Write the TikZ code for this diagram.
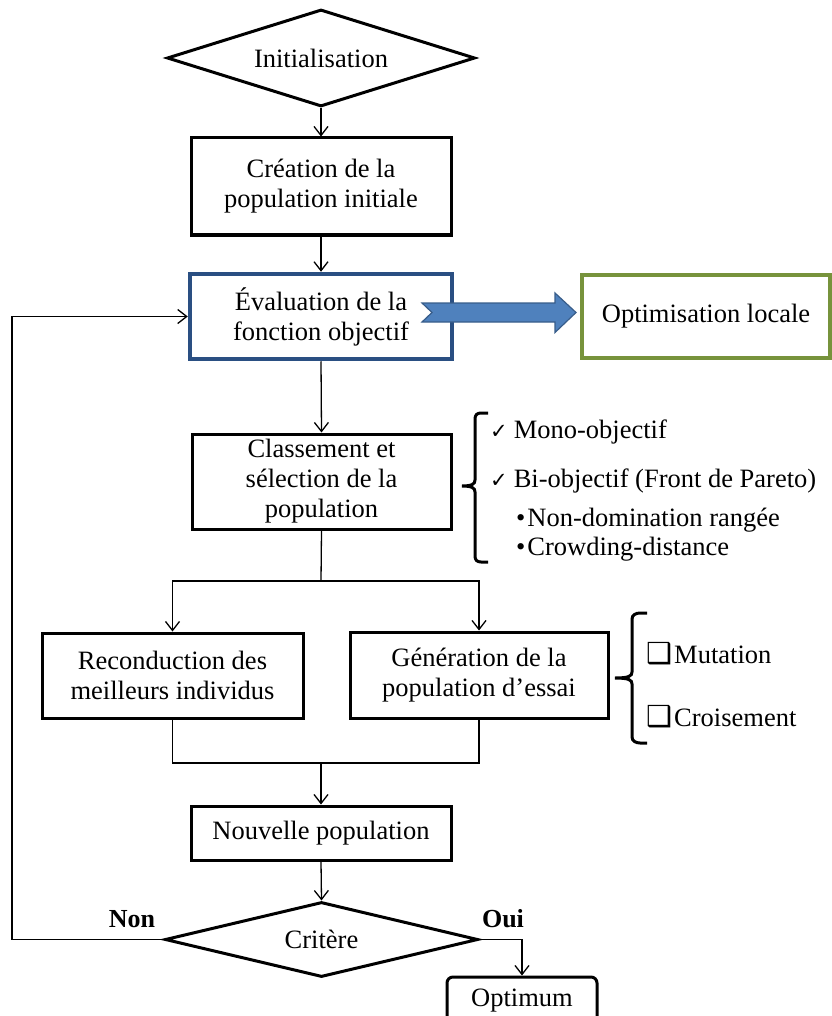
\documentclass[tikz,border=0pt]{standalone}
\usepackage{fontspec}
\setmainfont{Liberation Serif}
\newfontfamily\symfont{DejaVu Sans}
\usetikzlibrary{shapes.geometric,arrows.meta}
\definecolor{evalblue}{RGB}{42,79,130}
\definecolor{arrowfill}{RGB}{79,129,189}
\definecolor{arrowline}{RGB}{56,93,138}
\definecolor{locgreen}{RGB}{119,147,60}
\begin{document}
\begin{tikzpicture}[x=1pt,y=-1pt,
  font=\fontsize{26.5}{30}\selectfont,
  box/.style={draw, line width=3pt, align=center, inner sep=0pt},
  dia/.style={draw, diamond, line width=3pt, inner sep=0pt, shape aspect=3.2},
  conn/.style={line width=1.3pt, -{Straight Barb[length=9pt,width=14pt]}},
  plain/.style={line width=1.3pt},
  brace/.style={line width=3pt},
  item/.style={anchor=west, inner sep=0pt},
]
\useasboundingbox (0,0) rectangle (831,1016);

% nodes
\node[dia, minimum width=308pt, minimum height=97pt] (init) at (321,58) {Initialisation};
\node[box, minimum width=260pt, minimum height=97pt] (create) at (321,186.5) {Création de la\\population initiale};
\node[box, draw=evalblue, line width=4.5pt, minimum width=262pt, minimum height=85pt] (eval) at (321,316.5) {Évaluation de la\\fonction objectif};
\node[box, draw=locgreen, line width=4pt, minimum width=248pt, minimum height=83pt] (optim) at (706,316.5) {Optimisation locale};
\node[box, minimum width=259pt, minimum height=95pt] (classe) at (321.5,481.5) {Classement et\\sélection de la\\population};
\node[box, minimum width=261pt, minimum height=85pt] (recon) at (172.5,675.5) {Reconduction des\\meilleurs individus};
\node[box, minimum width=258pt, minimum height=86pt] (gen) at (479,675) {Génération de la\\population d’essai};
\node[box, minimum width=260pt, minimum height=54pt] (nouv) at (321,833) {Nouvelle population};
\node[dia, minimum width=313pt, minimum height=75pt] (crit) at (321.5,939.5) {Critère};
\node[box, rounded corners=6pt, minimum width=150pt, minimum height=48pt] (optimum) at (522,1001) {Optimum};

% labels
\node[font=\fontsize{26}{30}\selectfont\bfseries, inner sep=0pt] (non) at (132,919) {Non};
\node[font=\fontsize{26}{30}\selectfont\bfseries, inner sep=0pt] (oui) at (503,919) {Oui};

% connectors
\draw[conn] (init.south) -- (create.north);
\draw[conn] (create.south) -- (eval.north);
\draw[conn] (eval.south) -- (classe.north);
\coordinate (split) at (321,581);
\draw[plain] (classe.south) -- (split);
\draw[conn] (split) -| (recon.north);
\draw[conn] (split) -| (gen.north);
\coordinate (join) at (321,763);
\draw[plain] (recon.south) |- (join);
\draw[plain] (gen.south) |- (join);
\draw[conn] (join) -- (nouv.north);
\draw[conn] (nouv.south) -- (crit.north);
\coordinate (fbx) at (12,600);
\draw[conn] (crit.west) -| (fbx) |- (eval.west);
\draw[conn] (crit.east) -| (optimum.north);

% big block arrow
\draw[fill=arrowfill, draw=arrowline, line width=1.2pt, line join=miter]
  (422,303) -- (555,303) -- (555,293) -- (576,312.5) -- (555,332.5) -- (555,322)
  -- (422,322) -- (432,312.5) -- cycle;

% brace 1
\draw[brace] (488,413) -- (481,413) .. controls (477,413) and (475,415) .. (475,419)
  -- (475,480) .. controls (475,484) and (472,486) .. (462,486)
  .. controls (472,486) and (475,488) .. (475,492)
  -- (475,556) .. controls (475,560) and (477,562) .. (481,562) -- (488,562);

% brace 2
\draw[brace] (647,613) -- (640,613) .. controls (636,613) and (632,615) .. (632,619)
  -- (632,672) .. controls (632,676) and (629,678) .. (615,678)
  .. controls (629,678) and (632,680) .. (632,684)
  -- (632,737) .. controls (632,741) and (636,743) .. (640,743) -- (647,743);

% list items
\node[item] (mono) at (490,432) {{\symfont\fontsize{21}{24}\selectfont ✓}\hspace{6pt}Mono-objectif};
\node[item] (bi) at (490,481) {{\symfont\fontsize{21}{24}\selectfont ✓}\hspace{6pt}Bi-objectif (Front de Pareto)};
\node[item] (nd) at (516,520) {•\hspace{2pt}Non-domination rangée};
\node[item] (cd) at (516,549) {•\hspace{2pt}Crowding-distance};
\node[item] (mut) at (646,654) {{\symfont\fontsize{29}{30}\selectfont ❑}\hspace{2pt}Mutation};
\node[item] (cro) at (646,717) {{\symfont\fontsize{29}{30}\selectfont ❑}\hspace{2pt}Croisement};
\end{tikzpicture}
\end{document}
